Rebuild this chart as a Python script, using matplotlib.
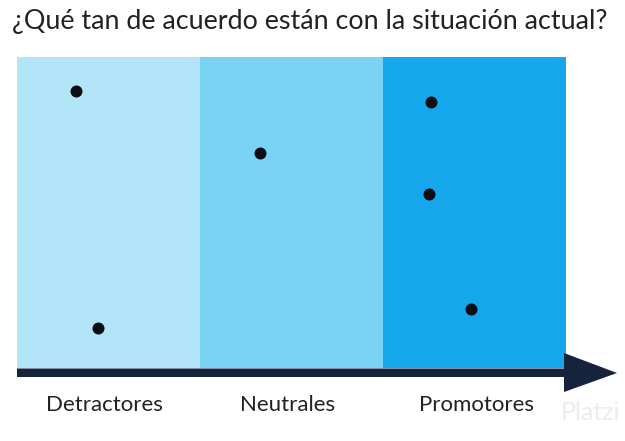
import matplotlib
matplotlib.use("Agg")
import matplotlib.pyplot as plt
from matplotlib.patches import Polygon

plt.rcParams['font.family'] = ['Lato', 'DejaVu Sans']

# data
categories = ['Detractores', 'Neutrales', 'Promotores']
band_colors = ['#b3e5f9', '#7ad3f4', '#16a6eb']
dot_x = [0.32, 0.44, 1.33, 2.26, 2.25, 2.48]
dot_y = [8.9, 1.3, 6.9, 8.55, 5.6, 1.9]

W, H = 625, 441
fig = plt.figure(figsize=(6.25, 4.41), dpi=100)
ax = fig.add_axes([17 / W, 1 - 368 / H, 549 / W, 311 / H])

for i, c in enumerate(band_colors):
    ax.axvspan(i, i + 1, color=c, lw=0)
ax.scatter(dot_x, dot_y, s=75, c='#0d0d14', zorder=3, linewidths=0)
ax.set_xlim(0, 3)
ax.set_ylim(0, 10)
ax.axis('off')

# arrow (pixel coords -> figure fraction)
def px(x, y):
    return (x / W, 1 - y / H)

pts = [px(17, 368.5), px(564, 368.5), px(564, 353), px(617, 373),
       px(564, 392), px(564, 377), px(17, 377)]
fig.patches.append(Polygon(pts, closed=True, transform=fig.transFigure,
                           facecolor='#16233d', edgecolor='none'))

# category labels
label_off = [-0.02, -0.02, 0.01]
for i, cat in enumerate(categories):
    ax.text(i + 0.5 + label_off[i], -1.2, cat, ha='center', va='center',
            fontsize=16, color='#222222', clip_on=False)

fig.text(12 / W, 1 - 21 / H, '¿Qué tan de acuerdo están con la situación actual?',
         ha='left', va='center', fontsize=19.4, color='#222222')

fig.text(1 - 5 / W, 1 - 413 / H, 'Platzi', ha='right', va='center',
         fontsize=18, color='#ececec')

plt.savefig('out.png', dpi=100)
